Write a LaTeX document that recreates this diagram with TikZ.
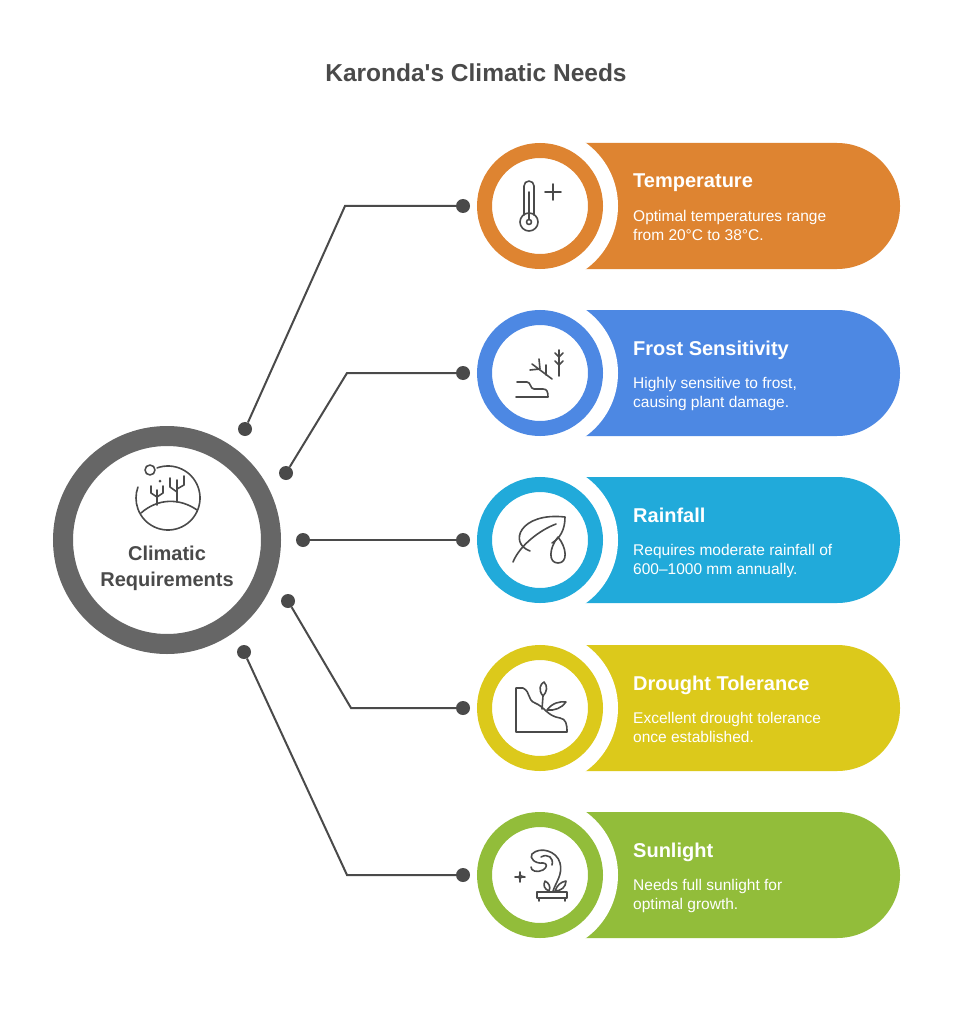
\documentclass[tikz,border=0pt]{standalone}
\usepackage{fontspec}
\setmainfont{Liberation Sans}[Ligatures=TeXOff]
\usetikzlibrary{positioning}
\definecolor{ink}{HTML}{4A4A4A}
\definecolor{ringgray}{HTML}{666666}
\definecolor{tempc}{HTML}{DE8431}
\definecolor{frostc}{HTML}{4D88E3}
\definecolor{rainc}{HTML}{21AADA}
\definecolor{droughtc}{HTML}{DCC91B}
\definecolor{sunc}{HTML}{92BD3A}
\begin{document}
\begin{tikzpicture}[x=1pt,y=-1pt,
    iconring/.style={circle,draw=#1,line width=15pt,fill=white,inner sep=0pt,minimum size=111pt},
    dot/.style={circle,fill=ink,inner sep=0pt,minimum size=14pt},
    link/.style={draw=ink,line width=2pt},
    icon/.style={draw=ink,line width=1.6pt,line cap=round,line join=round},
    head/.style={anchor=base west,inner sep=0pt,text=white,font=\fontsize{20}{24}\selectfont\bfseries},
    desc/.style={anchor=north west,inner sep=0pt,text=white,align=left,font=\fontsize{15.5}{19}\selectfont}]
    \useasboundingbox[fill=white] (0,0) rectangle (953,1024);
    \node[anchor=base,text=ink,font=\fontsize{24.5}{28}\selectfont\bfseries] (title) at (476,82) {Karonda's Climatic Needs};
    % coloured bands with icon rings
    \foreach \yy/\cc/\nn in {206/tempc/temp,373/frostc/frost,540/rainc/rain,708/droughtc/drought,875/sunc/sun}{
        \fill[\cc,rounded corners=63pt] (470,\yy-63) rectangle (900,\yy+63);
        \fill[white] (540,\yy) circle[radius=78pt];
        \node[iconring=\cc] (\nn) at (540,\yy) {};
    }
    % hub
    \node[circle,draw=ringgray,line width=20pt,fill=white,inner sep=0pt,minimum size=208pt] (hub) at (167,540) {};
    \node[text=ink,align=center,font=\fontsize{20}{26}\selectfont\bfseries] (hubtext) at (167,568) {Climatic\\Requirements};
    % connectors
    \node[dot] (a1) at (245,429) {};
    \node[dot] (a2) at (286,473) {};
    \node[dot] (a3) at (303,540) {};
    \node[dot] (a4) at (288,601) {};
    \node[dot] (a5) at (244,652) {};
    \node[dot] (b1) at (463,206) {};
    \node[dot] (b2) at (463,373) {};
    \node[dot] (b3) at (463,540) {};
    \node[dot] (b4) at (463,708) {};
    \node[dot] (b5) at (463,875) {};
    \draw[link] (a1) -- (345,206) -- (b1);
    \draw[link] (a2) -- (347,373) -- (b2);
    \draw[link] (a3) -- (b3);
    \draw[link] (a4) -- (351,708) -- (b4);
    \draw[link] (a5) -- (347,875) -- (b5);
    % texts
    \node[head] (h1) at (633,188) {Temperature};
    \node[desc] (t1) at (633,210) {Optimal temperatures range\\from 20°C to 38°C.};
    \node[head] (h2) at (633,355) {Frost Sensitivity};
    \node[desc] (t2) at (633,377) {Highly sensitive to frost,\\causing plant damage.};
    \node[head] (h3) at (633,522) {Rainfall};
    \node[desc] (t3) at (633,544) {Requires moderate rainfall of\\600–1000 mm annually.};
    \node[head] (h4) at (633,690) {Drought Tolerance};
    \node[desc] (t4) at (633,712) {Excellent drought tolerance\\once established.};
    \node[head] (h5) at (633,857) {Sunlight};
    \node[desc] (t5) at (633,879) {Needs full sunlight for\\optimal growth.};
    % hub icon
    \draw[icon] (168,498) ++(250:32) arc (250:560:32);
    \draw[icon] (150,470) circle[radius=5pt];
    \fill[ink] (160,481) circle[radius=1.5pt];
    \draw[icon] (141,513) .. controls (158,498) and (180,498) .. (197,510);
    \draw[icon] (157,505) -- (157,490) (151,486) -- (151,493) -- (157,497) (163,486) -- (163,493) -- (157,497);
    \draw[icon] (177,502) -- (177,480) (170,478) -- (170,487) -- (177,492) (184,476) -- (184,485) -- (177,489);
    % thermometer
    \draw[icon] (529,222) circle[radius=9pt];
    \draw[icon] (524,215) -- (524,186) arc (180:360:5) -- (534,215);
    \draw[icon] (529,192) -- (529,219);
    \draw[icon] (529,222) circle[radius=2.5pt];
    \draw[icon] (545,192) -- (561,192) (553,184) -- (553,200);
    % frost
    \draw[icon] (517,382) -- (527,382) .. controls (531,382) and (530,389) .. (534,389) -- (543,389) .. controls (547,389) and (548,392) .. (548,397) -- (516,397);
    \draw[icon] (532,364) -- (552,379) (539,359) -- (540,369) (530,370) -- (540,369) (546,365) -- (546,375);
    \draw[icon] (559,350) -- (559,376) (555,353) -- (559,357) -- (563,353) (555,361) -- (559,365) -- (563,361);
    % rain
    \draw[icon] (530,551) .. controls (508,543) and (520,512) .. (565,517) .. controls (565,530) and (560,538) .. (552,543);
    \draw[icon] (513,562) .. controls (520,545) and (540,530) .. (556,524);
    \draw[icon] (558,537) .. controls (549,548) and (548,563) .. (558,563) .. controls (568,563) and (567,548) .. (558,537);
    % drought
    \draw[icon] (516,688) -- (523,688) .. controls (531,692) and (527,700) .. (535,703) .. controls (545,707) and (547,716) .. (560,718) .. controls (566,719) and (567,724) .. (567,732) -- (516,732) -- cycle;
    \draw[icon] (542,709) -- (543,696);
    \draw[icon] (543,696) .. controls (538,690) and (540,684) .. (544,682) .. controls (548,686) and (547,692) .. (543,696);
    \draw[icon] (547,710) .. controls (552,703) and (560,701) .. (566,702) .. controls (562,708) and (554,711) .. (547,710);
    % sunlight
    \draw[icon] (537,892) rectangle (567,898) (539,898) -- (539,901) (565,898) -- (565,901);
    \draw[icon] (549,891) .. controls (544,889) and (543,885) .. (545,881) .. controls (549,883) and (551,887) .. (549,891);
    \draw[icon] (555,891) .. controls (557,885) and (561,882) .. (566,881) .. controls (566,887) and (561,891) .. (555,891);
    \draw[icon] (553,891) .. controls (556,882) and (563,874) .. (560,863) .. controls (557,851) and (540,846) .. (532,854) .. controls (529,858) and (535,864) .. (543,863) .. controls (547,863) and (548,867) .. (543,870) .. controls (537,873) and (531,871) .. (531,867);
    \draw[icon] (541,857) .. controls (548,853) and (554,858) .. (552,865);
    \draw[icon] (520,872) .. controls (520,876) .. (525,877) .. controls (520,877) .. (520,882) .. controls (520,877) .. (515,877) .. controls (520,877) .. cycle;
\end{tikzpicture}
\end{document}
